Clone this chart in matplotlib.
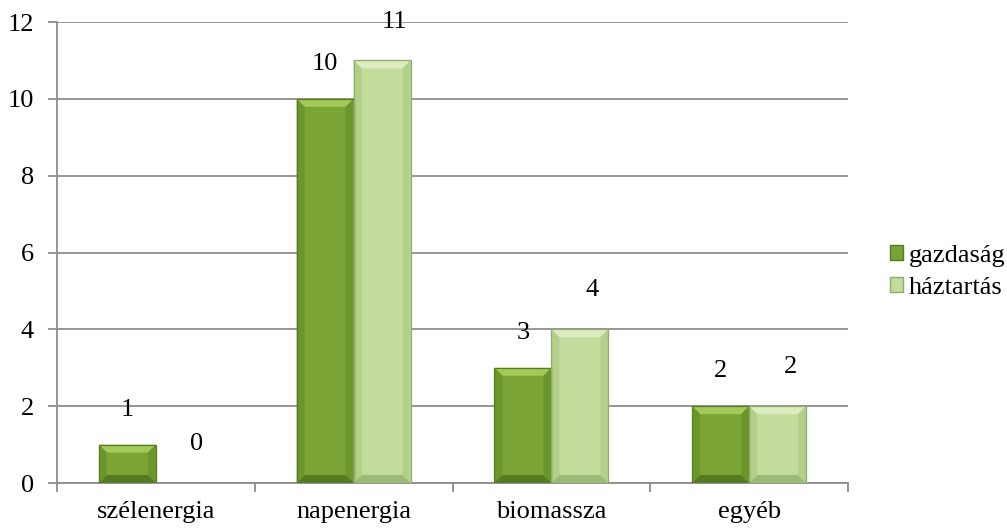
import matplotlib.pyplot as plt
from matplotlib.patches import Polygon, Patch

# adatok
categories = ['szélenergia', 'napenergia', 'biomassza', 'egyéb']
gazdasag = [1, 10, 3, 2]
haztartas = [0, 11, 4, 2]
series_names = ['gazdaság', 'háztartás']

plt.rcParams['font.family'] = ['Liberation Serif', 'DejaVu Serif']

# szinek: (kozep, felso, oldal, also, keret)
dark = ('#7aa433', '#a5c959', '#6b962c', '#557a20', '#557a22')
light = ('#c3dc9b', '#dcecc0', '#b3cf8a', '#9cb975', '#8fac6a')

fig = plt.figure(figsize=(10.07, 5.28), dpi=100)
ax = fig.add_axes([57 / 1007, 45 / 528, 791 / 1007, 461 / 528])
ax.set_xlim(-0.5, 3.5)
ax.set_ylim(0, 12)

width = 0.288
pos = range(len(categories))

# pixel -> adat egysegek a bevel-hez
inv = ax.transData.inverted()
p0 = inv.transform((0, 0))
p1 = inv.transform((8, 8))
bx, by = p1[0] - p0[0], p1[1] - p0[1]


def bevel_bar(xc, h, cols):
    if h <= 0:
        return
    x0, x1 = xc - width / 2, xc + width / 2
    iy = min(by, h / 3)
    ix = bx
    face, top, side, bot, edge = cols
    ax.add_patch(Polygon([(x0, 0), (x1, 0), (x1, h), (x0, h)], closed=True,
                         facecolor=face, edgecolor='none', zorder=3))
    ax.add_patch(Polygon([(x0, h), (x1, h), (x1 - ix, h - iy), (x0 + ix, h - iy)],
                         facecolor=top, edgecolor='none', zorder=4))
    ax.add_patch(Polygon([(x0, 0), (x1, 0), (x1 - ix, iy), (x0 + ix, iy)],
                         facecolor=bot, edgecolor='none', zorder=4))
    ax.add_patch(Polygon([(x0, 0), (x0, h), (x0 + ix, h - iy), (x0 + ix, iy)],
                         facecolor=side, edgecolor='none', zorder=4))
    ax.add_patch(Polygon([(x1, 0), (x1, h), (x1 - ix, h - iy), (x1 - ix, iy)],
                         facecolor=side, edgecolor='none', zorder=4))
    ax.add_patch(Polygon([(x0, 0), (x1, 0), (x1, h), (x0, h)], closed=True,
                         facecolor='none', edgecolor=edge, linewidth=0.9, zorder=5))


for i in pos:
    bevel_bar(i - width / 2, gazdasag[i], dark)
    bevel_bar(i + width / 2, haztartas[i], light)
    ax.annotate(str(gazdasag[i]), (i - width / 2, gazdasag[i]), xytext=(0, 25),
                textcoords='offset points', ha='center', va='center', fontsize=19)
    ax.annotate(str(haztartas[i]), (i + width / 2, haztartas[i]), xytext=(9, 28),
                textcoords='offset points', ha='center', va='center', fontsize=19)

# tengelyek, racs
ax.set_yticks(range(0, 13, 2))
ax.yaxis.grid(True, color='#8c8c8c', linewidth=1.3)
ax.set_axisbelow(True)
for s in ['top', 'right']:
    ax.spines[s].set_visible(False)
for s in ['left', 'bottom']:
    ax.spines[s].set_color('#8c8c8c')
    ax.spines[s].set_linewidth(1.3)
ax.tick_params(axis='y', colors='#8c8c8c', labelcolor='black', labelsize=19,
               length=6.5, width=1.3, pad=10)

ax.set_xticks(list(pos))
ax.set_xticklabels(categories, fontsize=19)
ax.set_xticks([-0.5, 0.5, 1.5, 2.5, 3.5], minor=True)
ax.tick_params(axis='x', which='major', length=0, pad=13)
ax.tick_params(axis='x', which='minor', length=6.5, width=1.3, color='#8c8c8c')

handles = [Patch(facecolor=dark[0], edgecolor=dark[4]),
           Patch(facecolor=light[0], edgecolor=light[4])]
fig.legend(handles, series_names, loc='center left', bbox_to_anchor=(0.884, 0.485),
           frameon=False, fontsize=19, handlelength=0.5, handleheight=0.5,
           handletextpad=0.2, labelspacing=0.35, borderpad=0, borderaxespad=0)

fig.savefig('out.png', dpi=100)
